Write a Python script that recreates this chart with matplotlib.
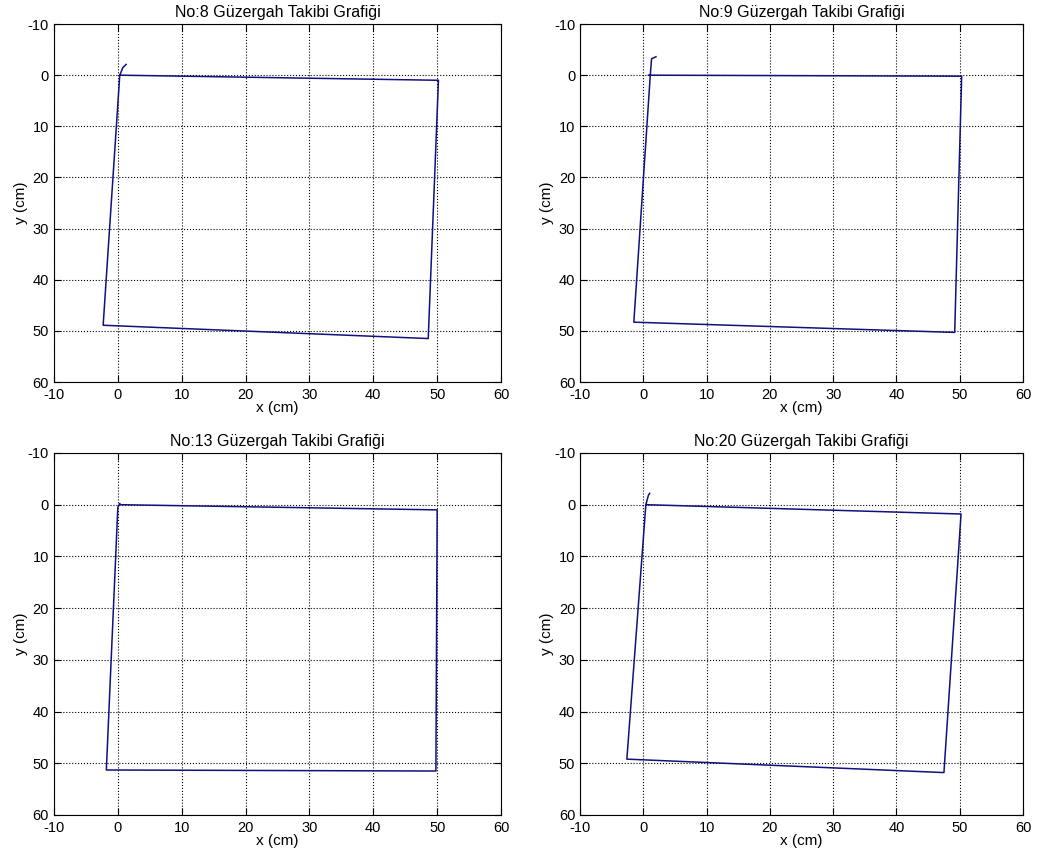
import matplotlib.pyplot as plt
import numpy as np

plt.rcParams['font.family'] = ['Liberation Sans', 'DejaVu Sans']
plt.rcParams['font.size'] = 10.5
plt.rcParams['axes.unicode_minus'] = False

titles = ['No:8 Güzergah Takibi Grafiği', 'No:9 Güzergah Takibi Grafiği',
          'No:13 Güzergah Takibi Grafiği', 'No:20 Güzergah Takibi Grafiği']

# path corners (x, y in cm)
x8 = [0.3, 50.2, 48.6, -2.3, 0.3, 0.8, 1.3]
y8 = [0.0, 1.0, 51.5, 48.9, 0.0, -1.5, -2.1]

x9 = [0.8, 50.3, 49.2, -1.5, 1.1, 1.3, 2.0]
y9 = [0.0, 0.2, 50.3, 48.3, 0.0, -3.2, -3.6]

x13 = [0.3, 50.0, 49.8, -1.8, 0.0, 0.3]
y13 = [0.0, 1.0, 51.5, 51.3, 0.5, -0.2]

x20 = [0.5, 50.2, 47.5, -2.6, 0.4, 0.8, 1.0]
y20 = [0.0, 1.8, 51.8, 49.2, 0.0, -1.8, -2.2]

paths = [(x8, y8), (x9, y9), (x13, y13), (x20, y20)]

ticks = np.arange(-10, 61, 10)

fig = plt.figure(figsize=(10.38, 8.55), dpi=100)
positions = [[0.052, 0.5532, 0.4307, 0.4187],
             [0.5588, 0.5532, 0.4268, 0.4187],
             [0.052, 0.0468, 0.4307, 0.4234],
             [0.5588, 0.0468, 0.4268, 0.4234]]

for pos, title, (px, py) in zip(positions, titles, paths):
    ax = fig.add_axes(pos)
    ax.plot(px, py, color='#10107f', linewidth=1.1)
    ax.set_xlim(-10, 60)
    ax.set_ylim(60, -10)
    ax.set_xticks(ticks)
    ax.set_yticks(ticks)
    ax.grid(True, linestyle=':', color='black', linewidth=0.8)
    ax.tick_params(direction='in', top=True, right=True, length=5)
    ax.tick_params(axis='x', pad=4.5)
    ax.set_title(title, fontsize=11.5, pad=5)
    ax.set_xlabel('x (cm)', fontsize=11, labelpad=-1)
    ax.set_ylabel('y (cm)', fontsize=11, labelpad=0)

fig.savefig('out.png', dpi=100)
